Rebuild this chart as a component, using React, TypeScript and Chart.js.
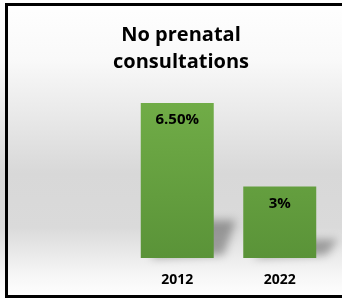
import React, { useEffect, useRef } from "react";
import { Chart, registerables } from "chart.js";

Chart.register(...registerables);

const titleLines = ["No prenatal", "consultations"];
const years = ["2012", "2022"];
const values = [6.5, 3];
const valueLabels = ["6.50%", "3%"];
const yMax = 7;

const FONT = "'Open Sans', 'DejaVu Sans', sans-serif";

const backgroundPlugin = {
  id: "bgBorder",
  beforeDraw(chart: any) {
    const { ctx, width, height } = chart;
    ctx.save();
    const g = ctx.createLinearGradient(0, 0, 0, height);
    g.addColorStop(0, "#ffffff");
    g.addColorStop(0.2, "#f9f9f9");
    g.addColorStop(0.58, "#d8d8d8");
    g.addColorStop(0.76, "#dadada");
    g.addColorStop(0.92, "#f6f6f6");
    g.addColorStop(1, "#ffffff");
    ctx.fillStyle = g;
    ctx.fillRect(0, 0, width, height);
    ctx.fillStyle = "#000000";
    ctx.fillRect(5, 3, width - 5, 3);
    ctx.fillRect(5, 295, width - 5, 3);
    ctx.fillRect(5, 3, 3, 295);
    ctx.restore();
  },
};

const titlePlugin = {
  id: "twoLineTitle",
  afterDraw(chart: any) {
    const { ctx } = chart;
    ctx.save();
    ctx.fillStyle = "#000000";
    ctx.font = `bold 20px ${FONT}`;
    ctx.textAlign = "center";
    ctx.textBaseline = "middle";
    titleLines.forEach((t, i) => ctx.fillText(t, 181, 35 + i * 27));
    ctx.restore();
  },
};

const shadowPlugin = {
  id: "barShadow",
  beforeDatasetsDraw(chart: any) {
    const { ctx } = chart;
    const meta = chart.getDatasetMeta(0);
    ctx.save();
    ctx.filter = "blur(4px)";
    ctx.fillStyle = "rgba(0,0,0,0.32)";
    meta.data.forEach((bar: any) => {
      const w = bar.width;
      const left = bar.x - w / 2;
      const right = bar.x + w / 2;
      const base = bar.base;
      const h = (base - bar.y) * 0.23 + 2;
      ctx.beginPath();
      ctx.moveTo(left + 10, base);
      ctx.lineTo(right + 10, base - 3);
      ctx.lineTo(right + 22, base - h);
      ctx.lineTo(left + 30, base - h);
      ctx.closePath();
      ctx.fill();
    });
    ctx.restore();
  },
};

const labelPlugin = {
  id: "valueLabels",
  afterDatasetsDraw(chart: any) {
    const { ctx } = chart;
    const meta = chart.getDatasetMeta(0);
    ctx.save();
    ctx.fillStyle = "#000000";
    ctx.font = `bold 15px ${FONT}`;
    ctx.textAlign = "center";
    ctx.textBaseline = "middle";
    meta.data.forEach((bar: any, i: number) => {
      ctx.fillText(valueLabels[i], bar.x, bar.y + 17);
    });
    ctx.restore();
  },
};

export default function App() {
  const ref = useRef<HTMLCanvasElement | null>(null);

  useEffect(() => {
    document.body.style.margin = "0";
    const canvas = ref.current;
    if (!canvas) return;
    const chart = new Chart(canvas, {
      type: "bar",
      data: {
        labels: years,
        datasets: [
          {
            data: values,
            backgroundColor: (c: any) => {
              const area = c.chart.chartArea;
              if (!area) return "#6aa543";
              const g = c.chart.ctx.createLinearGradient(0, area.top, 0, area.bottom);
              g.addColorStop(0, "#72ae48");
              g.addColorStop(1, "#5a9338");
              return g;
            },
            borderWidth: 0,
            barPercentage: 0.8,
            categoryPercentage: 0.89,
          },
        ],
      },
      options: {
        responsive: false,
        animation: false,
        devicePixelRatio: 1,
        layout: { padding: { top: 91, left: 126, right: 11, bottom: 11 } },
        plugins: {
          legend: { display: false },
          title: { display: false },
          tooltip: { enabled: false },
        },
        scales: {
          x: {
            grid: { display: false, drawTicks: false },
            border: { display: false },
            ticks: {
              color: "#000000",
              font: { family: FONT, size: 14, weight: "bold" },
              padding: 14,
            },
            afterFit: (scale: any) => {
              scale.height = 30;
            },
          },
          y: {
            display: false,
            min: 0,
            max: yMax,
          },
        },
      },
      plugins: [backgroundPlugin, shadowPlugin, labelPlugin, titlePlugin],
    });
    return () => chart.destroy();
  }, []);

  return (
    <canvas
      ref={ref}
      width={342}
      height={299}
      style={{ display: "block", width: 342, height: 299 }}
    />
  );
}
